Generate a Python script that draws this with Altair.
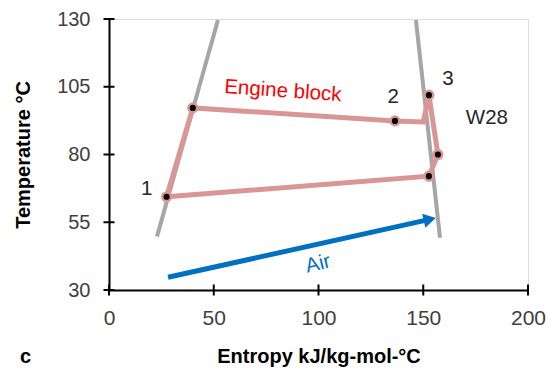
import altair as alt
import pandas as pd

FONT = "Liberation Sans"

x_ticks = [0, 50, 100, 150, 200]
y_ticks = [30, 55, 80, 105, 130]

# Engine block cycle path (entropy, temperature)
engine_s = [27.5, 40.0, 136.5, 150.0, 152.7, 157.0, 152.7, 27.5]
engine_t = [64.4, 97.2, 92.4, 92.0, 101.9, 80.0, 72.0, 64.4]
marker_s = [27.5, 40.0, 136.5, 152.7, 157.0, 152.7]
marker_t = [64.4, 97.2, 92.4, 101.9, 80.0, 72.0]

# Gray boundary lines
left_s = [22.9, 52.0]
left_t = [49.7, 129.6]
right_s = [146.5, 158.0]
right_t = [129.6, 49.3]

# Air arrow
air_s = [28.2, 153.1]
air_t = [34.7, 56.05]

# Point labels
num_labels = ["1", "2", "3", "W28"]
num_s = [18.0, 135.6, 161.8, 180.4]
num_t = [67.2, 101.2, 107.7, 93.5]

engine_label = "Engine block"
engine_label_s = [83.0]
engine_label_t = [103.4]
air_label = "Air"
air_label_s = [99.8]
air_label_t = [39.6]
panel_label = "c"
panel_s = [-39.8]
panel_t = [3.0]

XS = alt.Scale(domain=[0, 200], nice=False, zero=False)
YS = alt.Scale(domain=[30, 130], nice=False, zero=False)


def X():
    return alt.X("s:Q", scale=XS, title="Entropy kJ/kg-mol-°C",
                 axis=alt.Axis(values=x_ticks, grid=False, ticks=False, tickSize=0,
                               labelFlush=False, labelPadding=17, titlePadding=18,
                               domainWidth=2, domainColor="black", labelFontSize=21,
                               labelColor="#404040", titleFontSize=20,
                               titleFontWeight="bold", titleColor="black",
                               labelFont=FONT, titleFont=FONT))


def Y():
    return alt.Y("t:Q", scale=YS, title="Temperature °C",
                 axis=alt.Axis(values=y_ticks, grid=False, ticks=False, tickSize=0,
                               labelFlush=False, labelPadding=19, titlePadding=23,
                               domainWidth=2, domainColor="black", labelFontSize=20,
                               labelColor="#404040", titleFontSize=20,
                               titleFontWeight="bold", titleColor="black",
                               labelFont=FONT, titleFont=FONT))


gray_df = pd.DataFrame({
    "s": left_s + right_s,
    "t": left_t + right_t,
    "g": ["L", "L", "R", "R"],
    "o": [0, 1, 0, 1],
})
engine_df = pd.DataFrame({"s": engine_s, "t": engine_t, "o": list(range(len(engine_s)))})
marker_df = pd.DataFrame({"s": marker_s, "t": marker_t})
air_df = pd.DataFrame({"s": air_s, "t": air_t, "o": [0, 1]})
head_df = pd.DataFrame({"s": air_s[-1:], "t": air_t[-1:]})
num_df = pd.DataFrame({"s": num_s, "t": num_t, "label": num_labels})
eng_lab_df = pd.DataFrame({"s": engine_label_s, "t": engine_label_t, "label": [engine_label]})
air_lab_df = pd.DataFrame({"s": air_label_s, "t": air_label_t, "label": [air_label]})
panel_df = pd.DataFrame({"s": panel_s, "t": panel_t, "label": [panel_label]})
xtick_df = pd.DataFrame({"s": x_ticks, "t": [y_ticks[0]] * len(x_ticks)})
ytick_df = pd.DataFrame({"s": [x_ticks[0]] * len(y_ticks), "t": y_ticks})

gray = alt.Chart(gray_df).mark_line(color="#A6A6A6", strokeWidth=4).encode(
    x=X(), y=Y(), detail="g:N", order="o:Q")
engine = alt.Chart(engine_df).mark_line(color="#D99694", strokeWidth=5).encode(
    x=X(), y=Y(), order="o:Q")
markers = alt.Chart(marker_df).mark_point(
    shape="circle", filled=True, fill="black", stroke="#D99694", strokeWidth=2.5,
    size=75, opacity=1).encode(x=X(), y=Y())
air = alt.Chart(air_df).mark_line(color="#0070C0", strokeWidth=5).encode(
    x=X(), y=Y(), order="o:Q")
head = alt.Chart(head_df).mark_point(
    shape="triangle-right", filled=True, color="#0070C0", size=200, angle=347.4,
    opacity=1).encode(x=X(), y=Y())
nums = alt.Chart(num_df).mark_text(
    font=FONT, fontSize=20.5, color="#262626", align="center", baseline="middle").encode(
    x=X(), y=Y(), text="label:N")
eng_lab = alt.Chart(eng_lab_df).mark_text(
    font=FONT, fontSize=20.5, color="#FF0000", align="center", baseline="middle",
    angle=4).encode(x=X(), y=Y(), text="label:N")
air_lab = alt.Chart(air_lab_df).mark_text(
    font=FONT, fontSize=20.5, color="#0070C0", align="center", baseline="middle",
    angle=346).encode(x=X(), y=Y(), text="label:N")
panel = alt.Chart(panel_df).mark_text(
    font=FONT, fontSize=20, fontWeight="bold", color="black", align="center",
    baseline="alphabetic").encode(x=X(), y=Y(), text="label:N")
xt = alt.Chart(xtick_df).mark_tick(orient="vertical", color="black", size=11,
                                   thickness=2, opacity=1).encode(x=X(), y=Y())
yt = alt.Chart(ytick_df).mark_tick(orient="horizontal", color="black", size=11,
                                   thickness=2, opacity=1).encode(x=X(), y=Y())

chart = alt.layer(gray, engine, markers, air, head, nums, eng_lab, air_lab, panel, xt, yt).properties(
    width=419, height=271,
    autosize=alt.AutoSizeParams(type="none"),
    padding={"left": 101, "top": 11, "right": 19, "bottom": 78},
).configure_view(stroke=None).configure(background="white")

chart.save("out.html", embed_options={"renderer": "svg", "actions": False})
